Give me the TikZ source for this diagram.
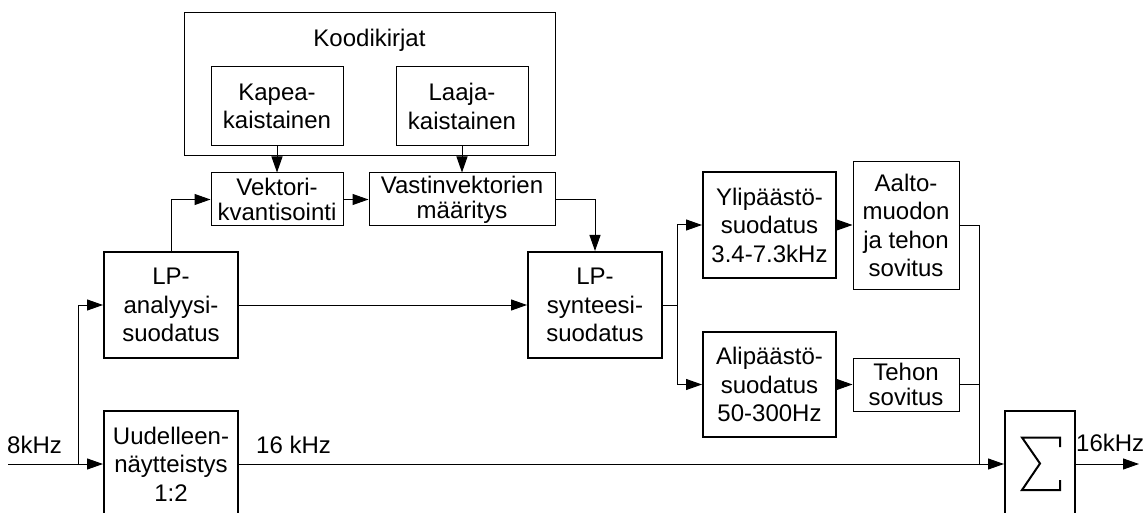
\documentclass[tikz,border=0pt]{standalone}
\usepackage{fontspec}
\setmainfont{Liberation Sans}
\usetikzlibrary{arrows.meta}
\begin{document}
\begin{tikzpicture}[x=1pt,y=-1pt,
  txt/.style={font=\fontsize{24}{28.5}\selectfont, align=center, inner sep=0pt},
  thinbox/.style={txt, draw, line width=1pt},
  thickbox/.style={txt, draw, line width=2pt},
  conn/.style={line width=1pt},
  arr/.style={conn, -{Triangle[length=16pt,width=11pt]}}]
\useasboundingbox (0,0) rectangle (1143,513);
\clip (0,0) rectangle (1143,513);
% code books
\node[thinbox, minimum width=371pt, minimum height=143pt] (koodi) at (369.5,84.5) {};
\node[txt] (kooditxt) at (369.5,40) {Koodikirjat};
\node[thinbox, minimum width=132pt, minimum height=79pt] (kapea) at (277,106.5) {Kapea-\\kaistainen};
\node[thinbox, minimum width=132pt, minimum height=79pt] (laaja) at (462,106.5) {Laaja-\\kaistainen};
\node[thinbox, minimum width=132pt, minimum height=53pt, font=\fontsize{24}{25}\selectfont] (vektori) at (277,199.5) {Vektori-\\kvantisointi};
\node[thinbox, minimum width=186pt, minimum height=53pt, font=\fontsize{24}{25}\selectfont] (vastin) at (462,199.5) {Vastinvektorien\\määritys};
% main blocks
\node[thickbox, minimum width=134pt, minimum height=106pt] (lpa) at (171,305) {LP-\\analyysi-\\suodatus};
\node[thickbox, minimum width=134pt, minimum height=106pt] (uud) at (171,464) {Uudelleen-\\näytteistys\\1:2};
\node[thickbox, minimum width=134pt, minimum height=106pt] (lps) at (595,305) {LP-\\synteesi-\\suodatus};
\node[thickbox, minimum width=133pt, minimum height=106pt] (yli) at (769.5,225) {Ylipäästö-\\suodatus\\3.4-7.3kHz};
\node[thickbox, minimum width=133pt, minimum height=105pt] (ali) at (769.5,384.5) {Alipäästö-\\suodatus\\50-300Hz};
\node[thinbox, minimum width=106pt, minimum height=127pt] (aalto) at (906,225.5) {Aalto-\\muodon\\ja tehon\\sovitus};
\node[thinbox, minimum width=106pt, minimum height=53pt, font=\fontsize{24}{25}\selectfont] (tehon) at (906,384.5) {Tehon\\sovitus};
\node[thickbox, minimum width=70pt, minimum height=106pt] (sum) at (1040,464) {};
\draw[line width=2pt] (1060,447) -- (1060,437.5) -- (1022,437.5) -- (1040,463.5) -- (1022,490) -- (1060,490) -- (1060,480);
% labels
\node[txt, anchor=base west] (lin) at (7,453) {8kHz};
\node[txt, anchor=base west] (l16) at (256,453) {16 kHz};
\node[txt, anchor=base west] (lout) at (1076,451) {16kHz};
% coordinates
\coordinate (in) at (8,464);
\coordinate (br1) at (78,464);
\coordinate (br2) at (677,305);
\coordinate (j) at (979,464);
\coordinate (out) at (1139,464);
% connectors
\draw[arr] (in) -- (uud.west);
\draw[arr] (br1) |- (lpa.west);
\draw[arr] (lpa.north) |- (vektori.west);
\draw[arr] (kapea.south) -- (vektori.north);
\draw[arr] (laaja.south) -- (vastin.north);
\draw[arr] (vektori.east) -- (vastin.west);
\draw[arr] (vastin.east) -| (lps.north);
\draw[arr] (lpa.east) -- (lps.west);
\draw[conn] (lps.east) -- (br2);
\draw[arr] (br2) |- (yli.west);
\draw[arr] (br2) |- (ali.west);
\draw[arr] (yli.east) -- (aalto.west |- yli.east);
\draw[arr] (ali.east) -- (tehon.west |- ali.east);
\draw[conn] (aalto.east) -| (j);
\draw[conn] (tehon.east) -| (j);
\draw[arr] (uud.east) -- (sum.west);
\draw[arr] (sum.east) -- (out);
\end{tikzpicture}
\end{document}
